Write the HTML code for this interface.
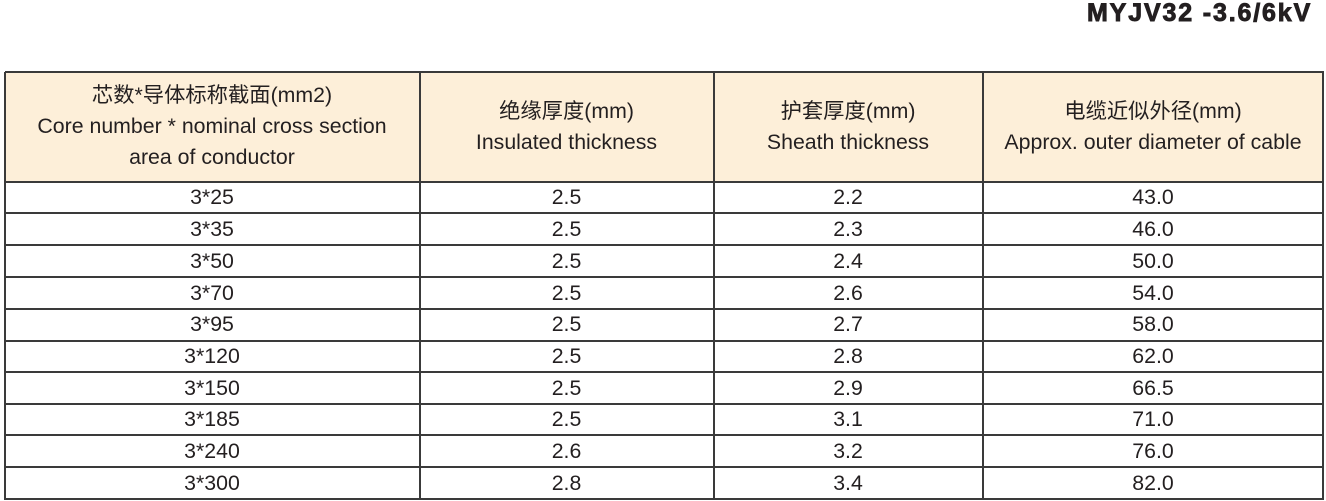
<!DOCTYPE html>
<html><head><meta charset="utf-8">
<style>
html,body{margin:0;padding:0;background:#fff;}
body{width:1326px;height:501px;position:relative;overflow:hidden;font-family:"Liberation Sans","Noto Sans CJK SC",sans-serif;color:#231f20;}
.title{position:absolute;left:1087px;top:0px;width:240px;height:26px;line-height:26px;font-size:25px;font-weight:bold;letter-spacing:1.85px;-webkit-text-stroke:0.9px #231f20;white-space:nowrap;}
.hdr{position:absolute;left:5px;top:72px;width:1318px;height:110px;background:#fdefd9;}
.h{position:absolute;background:#3a3a3a;height:2px;left:5px;width:1319px;}
.v{position:absolute;background:#3a3a3a;width:2px;top:72px;height:428px;}
.c{position:absolute;display:flex;align-items:center;justify-content:center;text-align:center;font-size:21.3px;line-height:31px;white-space:nowrap;}
</style></head><body>
<div class="title">MYJV32 -3.6/6kV</div>
<div class="hdr"></div>

<div class="h" style="top:71px"></div>
<div class="h" style="top:180.5px"></div>
<div class="h" style="top:212.3px"></div>
<div class="h" style="top:244.3px"></div>
<div class="h" style="top:276px"></div>
<div class="h" style="top:307.7px"></div>
<div class="h" style="top:339.5px"></div>
<div class="h" style="top:371.3px"></div>
<div class="h" style="top:402.7px"></div>
<div class="h" style="top:434.3px"></div>
<div class="h" style="top:466.3px"></div>
<div class="h" style="top:498px"></div>

<div class="v" style="left:4px"></div>
<div class="v" style="left:418.5px"></div>
<div class="v" style="left:712.5px"></div>
<div class="v" style="left:981.5px"></div>
<div class="v" style="left:1322px"></div>

<!-- header -->
<div class="c" style="left:5px;width:414px;top:72px;height:109px;">芯数*导体标称截面(mm2)<br>Core number * nominal cross section<br>area of conductor</div>
<div class="c" style="left:420px;width:293px;top:72px;height:109px;">绝缘厚度(mm)<br>Insulated thickness</div>
<div class="c" style="left:714px;width:268px;top:72px;height:109px;">护套厚度(mm)<br>Sheath thickness</div>
<div class="c" style="left:983px;width:340px;top:72px;height:109px;">电缆近似外径(mm)<br>Approx. outer diameter of cable</div>

<!-- rows -->
<div class="c" style="left:5px;width:414px;top:182px;height:31px;">3*25</div>
<div class="c" style="left:420px;width:293px;top:182px;height:31px;">2.5</div>
<div class="c" style="left:714px;width:268px;top:182px;height:31px;">2.2</div>
<div class="c" style="left:983px;width:340px;top:182px;height:31px;">43.0</div>

<div class="c" style="left:5px;width:414px;top:214px;height:31px;">3*35</div>
<div class="c" style="left:420px;width:293px;top:214px;height:31px;">2.5</div>
<div class="c" style="left:714px;width:268px;top:214px;height:31px;">2.3</div>
<div class="c" style="left:983px;width:340px;top:214px;height:31px;">46.0</div>

<div class="c" style="left:5px;width:414px;top:246px;height:31px;">3*50</div>
<div class="c" style="left:420px;width:293px;top:246px;height:31px;">2.5</div>
<div class="c" style="left:714px;width:268px;top:246px;height:31px;">2.4</div>
<div class="c" style="left:983px;width:340px;top:246px;height:31px;">50.0</div>

<div class="c" style="left:5px;width:414px;top:277.5px;height:31px;">3*70</div>
<div class="c" style="left:420px;width:293px;top:277.5px;height:31px;">2.5</div>
<div class="c" style="left:714px;width:268px;top:277.5px;height:31px;">2.6</div>
<div class="c" style="left:983px;width:340px;top:277.5px;height:31px;">54.0</div>

<div class="c" style="left:5px;width:414px;top:309.3px;height:31px;">3*95</div>
<div class="c" style="left:420px;width:293px;top:309.3px;height:31px;">2.5</div>
<div class="c" style="left:714px;width:268px;top:309.3px;height:31px;">2.7</div>
<div class="c" style="left:983px;width:340px;top:309.3px;height:31px;">58.0</div>

<div class="c" style="left:5px;width:414px;top:341px;height:31px;">3*120</div>
<div class="c" style="left:420px;width:293px;top:341px;height:31px;">2.5</div>
<div class="c" style="left:714px;width:268px;top:341px;height:31px;">2.8</div>
<div class="c" style="left:983px;width:340px;top:341px;height:31px;">62.0</div>

<div class="c" style="left:5px;width:414px;top:372.8px;height:31px;">3*150</div>
<div class="c" style="left:420px;width:293px;top:372.8px;height:31px;">2.5</div>
<div class="c" style="left:714px;width:268px;top:372.8px;height:31px;">2.9</div>
<div class="c" style="left:983px;width:340px;top:372.8px;height:31px;">66.5</div>

<div class="c" style="left:5px;width:414px;top:404.3px;height:31px;">3*185</div>
<div class="c" style="left:420px;width:293px;top:404.3px;height:31px;">2.5</div>
<div class="c" style="left:714px;width:268px;top:404.3px;height:31px;">3.1</div>
<div class="c" style="left:983px;width:340px;top:404.3px;height:31px;">71.0</div>

<div class="c" style="left:5px;width:414px;top:436px;height:31px;">3*240</div>
<div class="c" style="left:420px;width:293px;top:436px;height:31px;">2.6</div>
<div class="c" style="left:714px;width:268px;top:436px;height:31px;">3.2</div>
<div class="c" style="left:983px;width:340px;top:436px;height:31px;">76.0</div>

<div class="c" style="left:5px;width:414px;top:467.8px;height:31px;">3*300</div>
<div class="c" style="left:420px;width:293px;top:467.8px;height:31px;">2.8</div>
<div class="c" style="left:714px;width:268px;top:467.8px;height:31px;">3.4</div>
<div class="c" style="left:983px;width:340px;top:467.8px;height:31px;">82.0</div>
</body></html>
